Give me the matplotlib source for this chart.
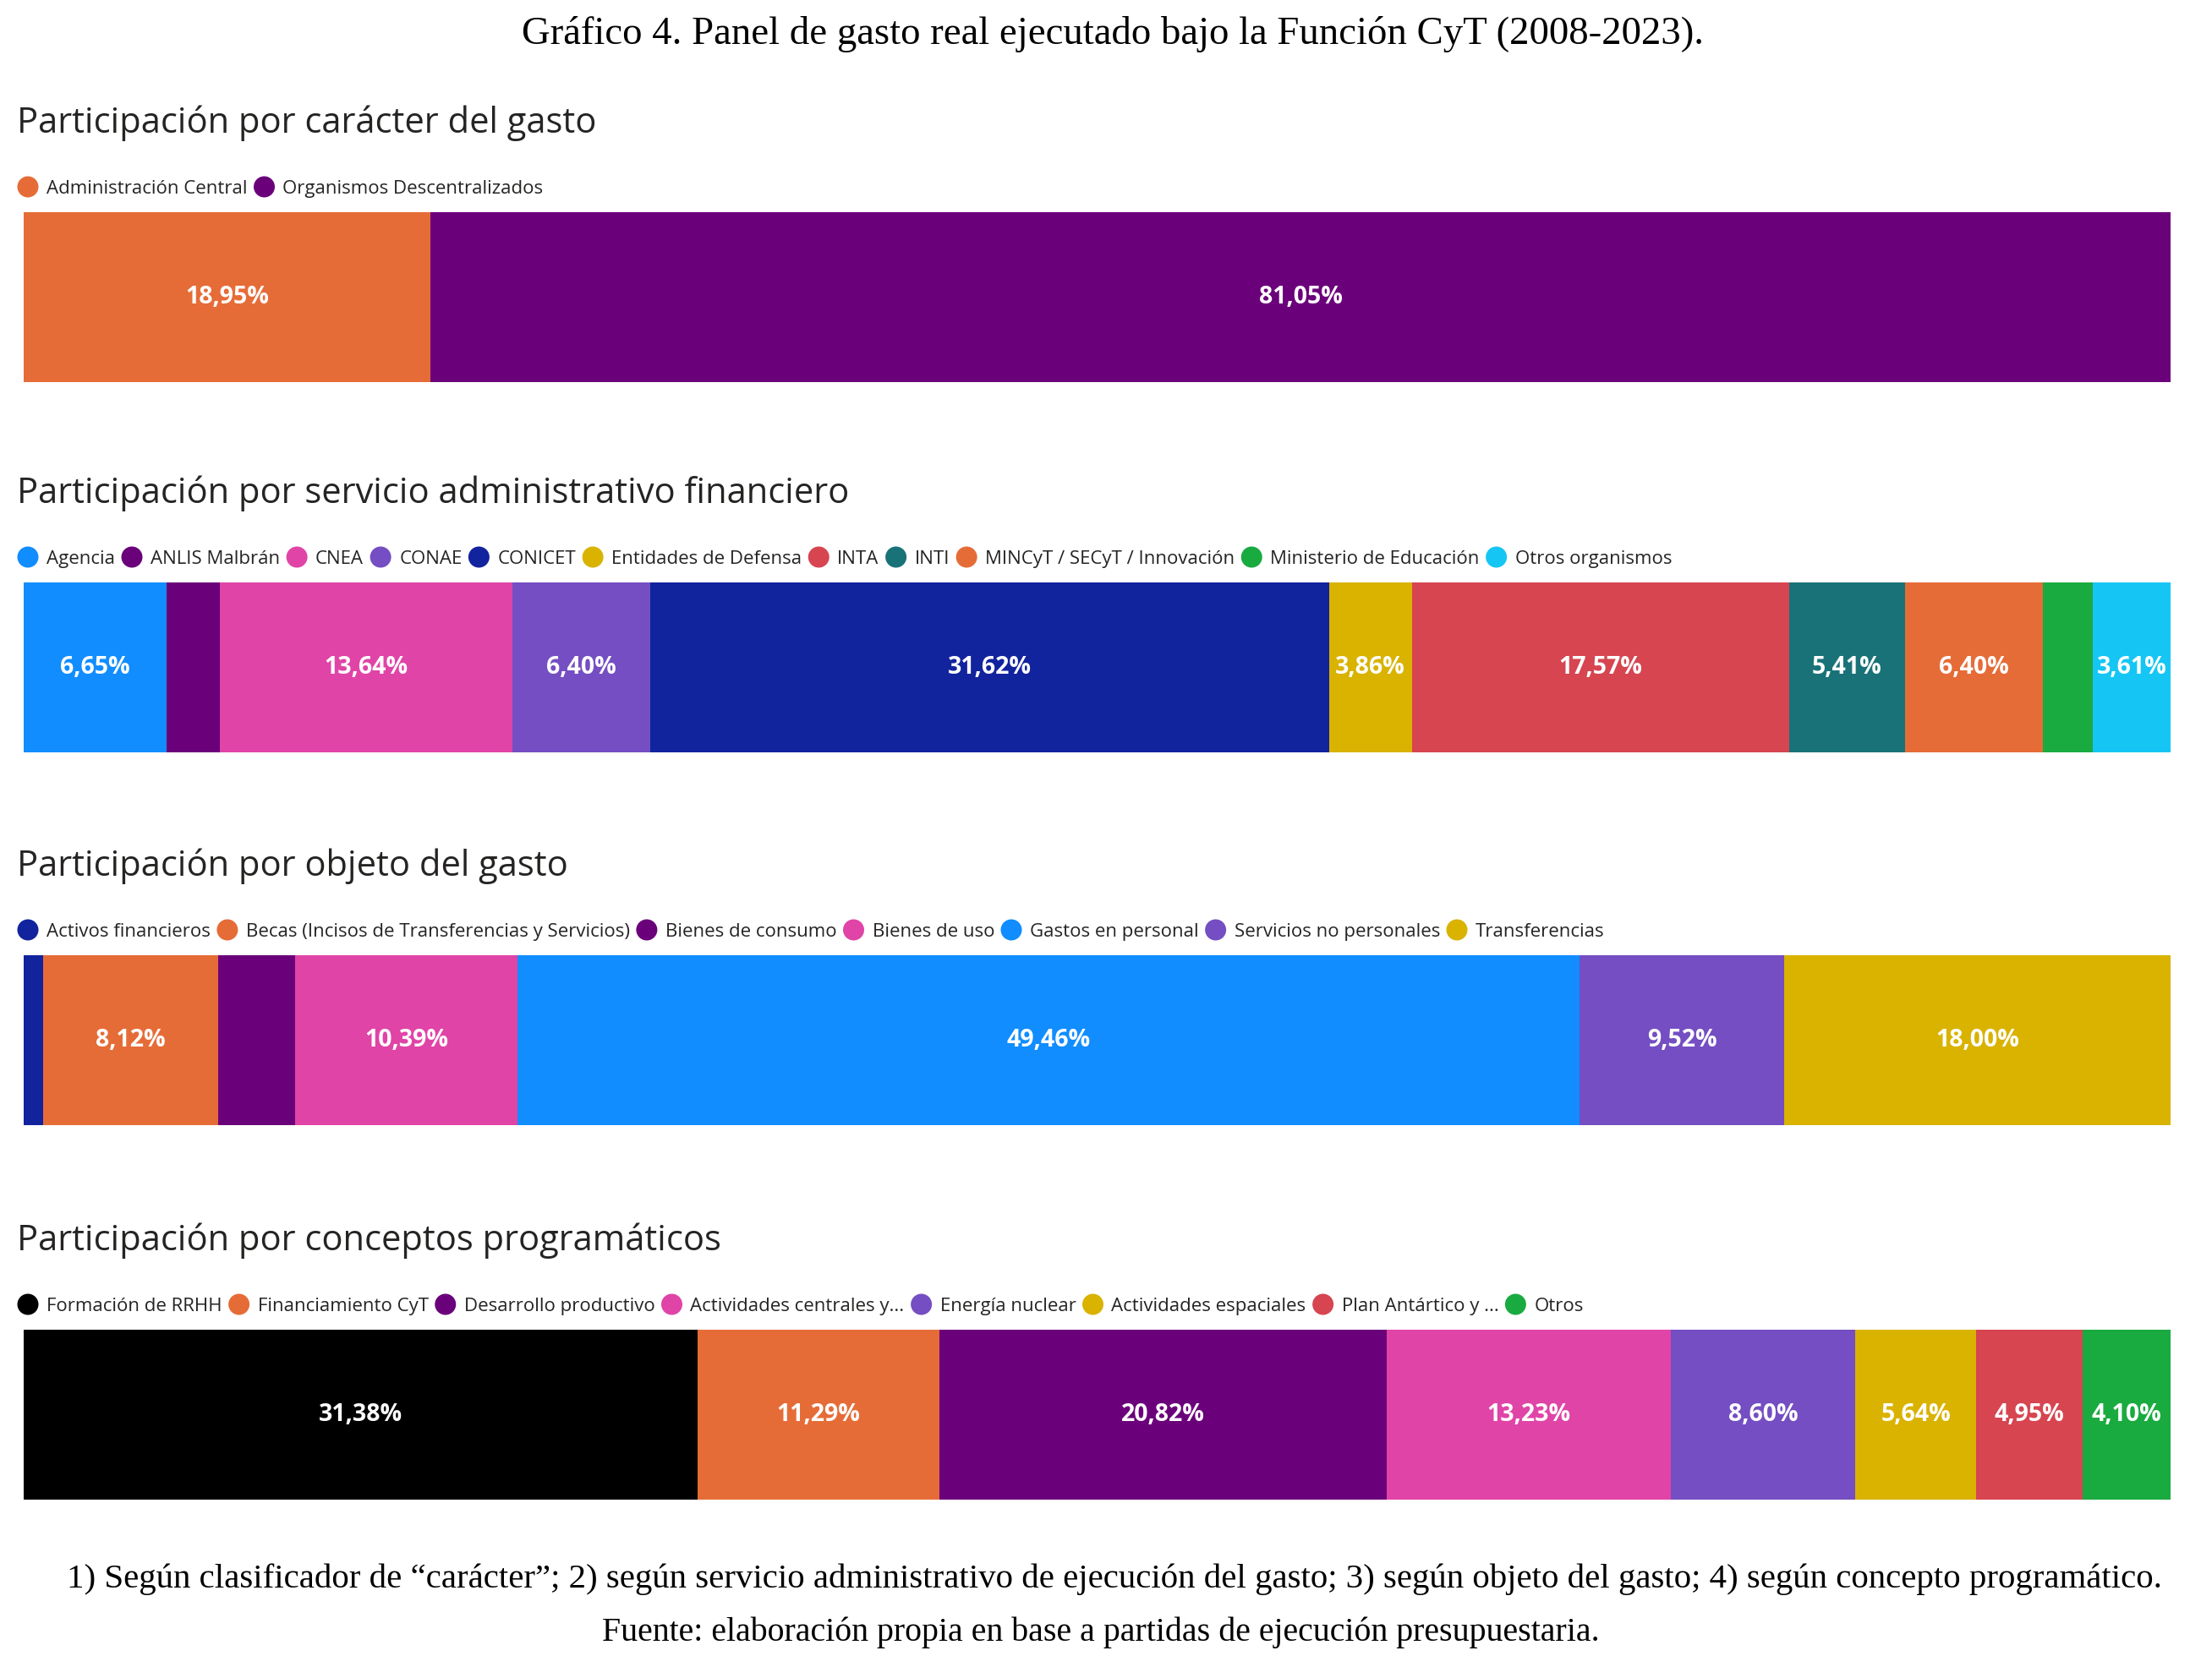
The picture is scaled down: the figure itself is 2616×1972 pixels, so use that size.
import numpy as np
import matplotlib
matplotlib.use("Agg")
import matplotlib.pyplot as plt
from matplotlib.patches import Circle

W, H, DPI = 2616, 1972, 100
SANS = ["Open Sans", "DejaVu Sans"]
SERIF = ["Liberation Serif", "DejaVu Serif"]
INK = "#252423"

ORANGE, PURPLE, BLUE, DBLUE = "#E66C37", "#6B007B", "#118DFF", "#12239E"
PINK, VIOLET, YELLOW, RED = "#E044A7", "#744EC2", "#D9B300", "#D64550"
TEAL, GREEN, CYAN, BLACK = "#197278", "#1AAB40", "#15C6F4", "#000000"

# --- data (percent of total real spending 2008-2023) ---
caracter_labels = ["Administración Central", "Organismos Descentralizados"]
caracter_vals = [18.95, 81.05]
caracter_cols = [ORANGE, PURPLE]

saf_labels = ["Agencia", "ANLIS Malbrán", "CNEA", "CONAE", "CONICET", "Entidades de Defensa",
              "INTA", "INTI", "MINCyT / SECyT / Innovación", "Ministerio de Educación",
              "Otros organismos"]
saf_vals = [6.65, 2.49, 13.64, 6.40, 31.62, 3.86, 17.57, 5.41, 6.40, 2.35, 3.61]
saf_cols = [BLUE, PURPLE, PINK, VIOLET, DBLUE, YELLOW, RED, TEAL, ORANGE, GREEN, CYAN]

objeto_labels = ["Activos financieros", "Becas (Incisos de Transferencias y Servicios)",
                 "Bienes de consumo", "Bienes de uso", "Gastos en personal",
                 "Servicios no personales", "Transferencias"]
objeto_vals = [0.92, 8.12, 3.59, 10.39, 49.46, 9.52, 18.00]
objeto_cols = [DBLUE, ORANGE, PURPLE, PINK, BLUE, VIOLET, YELLOW]

concepto_labels = ["Formación de RRHH", "Financiamiento CyT", "Desarrollo productivo",
                   "Actividades centrales y...", "Energía nuclear", "Actividades espaciales",
                   "Plan Antártico y ...", "Otros"]
concepto_vals = [31.38, 11.29, 20.82, 13.23, 8.60, 5.64, 4.95, 4.10]
concepto_cols = [BLACK, ORANGE, PURPLE, PINK, VIOLET, YELLOW, RED, GREEN]

panels = [
    ("Participación por carácter del gasto", caracter_labels, caracter_vals, caracter_cols),
    ("Participación por servicio administrativo financiero", saf_labels, saf_vals, saf_cols),
    ("Participación por objeto del gasto", objeto_labels, objeto_vals, objeto_cols),
    ("Participación por conceptos programáticos", concepto_labels, concepto_vals, concepto_cols),
]
MIN_LABEL = 3.6  # smaller segments get no data label

fig = plt.figure(figsize=(W / DPI, H / DPI), dpi=DPI)
bg = fig.add_axes([0, 0, 1, 1])
bg.set_xlim(0, W); bg.set_ylim(H, 0); bg.axis("off")
rend = fig.canvas.get_renderer()


def fit(t, width_px):
    # scale a serif line so it spans the same width as in the reference
    w = t.get_window_extent(rend).width
    t.set_fontsize(t.get_fontsize() * width_px / w)


t = bg.text(1316, 52, "Gráfico 4. Panel de gasto real ejecutado bajo la Función CyT (2008-2023).",
            ha="center", va="baseline", fontsize=33, family=SERIF, color="black")
fit(t, 1398)

X0, X1, BAR_H = 28, 2567, 201
tops = [251, 689, 1130, 1573]

for (title, labels, vals, cols), top in zip(panels, tops):
    bg.text(20, top - 94, title, ha="left", va="baseline", fontsize=30, family=SANS, color=INK)
    # legend, drawn left to right
    cy = top - 30
    x = 33
    for lab, c in zip(labels, cols):
        bg.add_patch(Circle((x, cy), 12.5, color=c, lw=0))
        t = bg.text(x + 22, cy + 8, lab, ha="left", va="baseline", fontsize=16,
                    family=SANS, color=INK)
        x += 22 + t.get_window_extent(rend).width + 20

    ax = fig.add_axes([X0 / W, 1 - (top + BAR_H) / H, (X1 - X0) / W, BAR_H / H])
    left = np.concatenate([[0], np.cumsum(vals)[:-1]])
    bars = ax.barh(0, vals, left=left, color=cols, height=1.0, lw=0)
    txt = [f"{v:.2f}".replace(".", ",") + "%" if v >= MIN_LABEL else "" for v in vals]
    ax.bar_label(bars, labels=txt, label_type="center", color="white", fontsize=20.5,
                 fontweight="bold", family=SANS)
    ax.set_xlim(0, sum(vals)); ax.set_ylim(-0.5, 0.5)
    ax.axis("off")

t = bg.text(1318, 1878, "1) Según clasificador de “carácter”; 2) según servicio administrativo de "
            "ejecución del gasto; 3) según objeto del gasto; 4) según concepto programático.",
            ha="center", va="baseline", fontsize=30, family=SERIF, color="black")
fit(t, 2480)
t = bg.text(1302, 1941, "Fuente: elaboración propia en base a partidas de ejecución presupuestaria.",
            ha="center", va="baseline", fontsize=30, family=SERIF, color="black")
fit(t, 1182)

fig.savefig("out.png", dpi=DPI, facecolor="white")
